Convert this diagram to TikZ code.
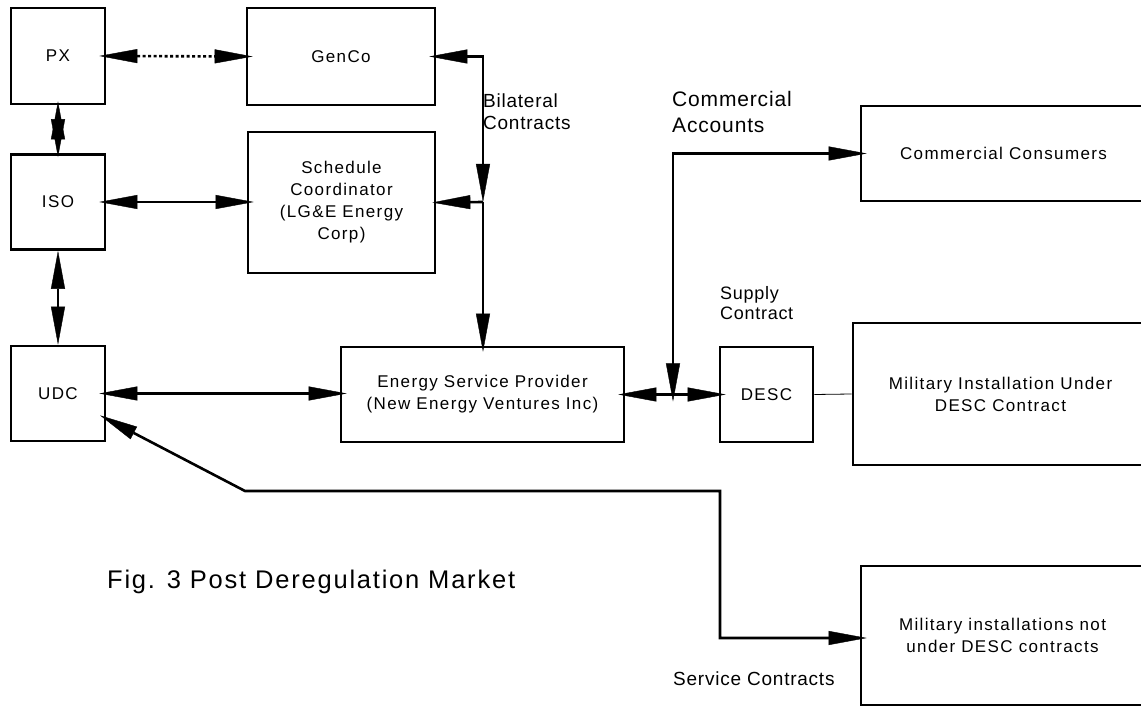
\documentclass[tikz,border=0pt]{standalone}
\usepackage{fontspec}
\setmainfont{Liberation Sans}
\newfontfamily\boxfont{Liberation Sans}[LetterSpace=8]
\newfontfamily\lblfont{Liberation Sans}[LetterSpace=4]
\newfontfamily\capfont{Liberation Sans}[LetterSpace=7]
\usetikzlibrary{arrows.meta}

\begin{document}
\begin{tikzpicture}[x=1pt,y=-1pt,
  blk/.style={draw, line width=2.6pt, inner sep=0pt, align=center,
    font=\boxfont\fontsize{17}{22}\selectfont},
  lbl/.style={inner sep=0pt, align=left, font=\lblfont\fontsize{19}{22}\selectfont},
  hd/.tip={Triangle[length=38pt,width=14pt,line width=0.4pt]},
  thick conn/.style={line width=2.6pt},
  thin conn/.style={line width=1.3pt},
  both/.style={hd-hd},
  into/.style={shorten >=-7pt, shorten <=-7pt},
]
\useasboundingbox (0,0) rectangle (1141,708);
\clip (0,0) rectangle (1141,708);

% blocks
\node[blk, minimum width=94, minimum height=96] (px) at (58,56) {PX};
\node[blk, minimum width=188, minimum height=97] (gen) at (341,56.5) {GenCo};
\node[blk, minimum width=94, minimum height=95] (iso) at (58,202) {ISO};
\node[blk, minimum width=187, minimum height=141] (sc) at (341.5,202.5)
  {Schedule\\Coordinator\\(LG\&E Energy\\Corp)};
\node[blk, minimum width=94, minimum height=95] (udc) at (58,393.5) {UDC};
\node[blk, minimum width=283, minimum height=95] (esp) at (482.5,394.5)
  {Energy Service Provider\\(New Energy Ventures Inc)};
\node[blk, minimum width=93, minimum height=95] (desc) at (766.5,394.5) {DESC};
\node[blk, minimum width=285, minimum height=95] (cc) at (1003.5,153.5)
  {Commercial Consumers};
\node[blk, minimum width=295, minimum height=142] (mi) at (1000.5,394)
  {Military Installation Under\\DESC Contract};
\node[blk, minimum width=283, minimum height=139] (min) at (1002.5,635.5)
  {Military installations not\\under DESC contracts};

% junction points
\coordinate (bj) at (483,202);
\coordinate (cj) at (673,394.5);
\coordinate (sj1) at (245,491);
\coordinate (sj2) at (720,491);
\coordinate (sj3) at (720,638);

% connectors
\draw[thick conn, both, into, dash pattern=on 3pt off 2.5pt] (px.east) -- (gen.west);
\draw[thick conn, both, shorten >=-4pt, shorten <=-4pt] (px.south) -- (iso.north);
\draw[thin conn, both, into] (iso.east) -- (iso.east -| sc.west);
\draw[thin conn, both] (iso.south) -- (udc.north);

\draw[thick conn, both, shorten <=-7pt] (gen.east) -- (gen.east -| bj) -- (bj);
\draw[thick conn, -hd, shorten >=-4pt] (bj) -- (sc.east);
\draw[thick conn, -hd, shorten >=-6pt] (bj) -- (bj |- esp.north);

\draw[thick conn, both, into] (udc.east) -- (udc.east -| esp.west);
\draw[thick conn, both, into] (esp.east) -- (desc.west);
\draw[thick conn, both, into] (cj) -- (cj |- cc.west) -- (cc.west);
\draw[line width=0.8pt] (desc.east) -- (mi.west);

\draw[thick conn, both, into] (udc) -- (sj1) -- (sj2) -- (sj3) -- (sj3 -| min.west);

% labels
\node[lbl, anchor=west] (bil) at (483,112) {Bilateral\\Contracts};
\node[lbl, anchor=west, font=\lblfont\fontsize{21}{26}\selectfont] (cac) at (672,112)
  {Commercial\\Accounts};
\node[lbl, anchor=west, font=\lblfont\fontsize{18}{20}\selectfont] (sup) at (720,303)
  {Supply\\Contract};
\node[lbl, anchor=west] (svc) at (673,679) {Service Contracts};
\node[anchor=base west, inner sep=0pt, font=\capfont\fontsize{25.5}{30}\selectfont] (cap)
  at (107,588) {Fig. 3 Post Deregulation Market};
\end{tikzpicture}
\end{document}
